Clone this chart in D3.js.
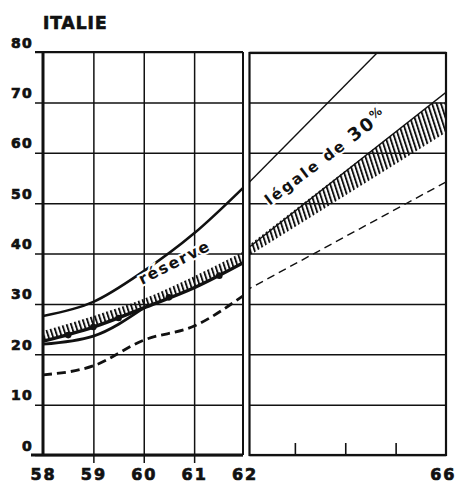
<!DOCTYPE html>
<html>
<head>
<meta charset="utf-8">
<script src="https://cdn.jsdelivr.net/npm/d3@7"></script>
<style>
  body { margin: 0; background: #fff; }
  text { font-family: "DejaVu Sans", sans-serif; font-weight: bold; fill: #111; }
</style>
</head>
<body>
<div class="graph"></div>
<script>
// tick values
const yTicks = [0, 10, 20, 30, 40, 50, 60, 70, 80];
const xLabels = [58, 59, 60, 61, 62, 66];
const leftGrid = [59, 60, 61];
const rightTicks = [63, 64, 65];

// left panel, 1958 - 1962
const years = [58, 59, 60, 61, 62];
const upperLeft = [27.6, 30.4, 36.5, 44, 53.3];
const actualLeft = [22.0, 23.6, 29.2];          // 58..60, then runs on the band edge
const bandTopLeft = [24.6, 27.6, 31.0, 35.5, 40.5];
const bandLowLeft = [22.6, 25.4, 29.2, 33.2, 38.3];
const dashedLeft = [15.9, 17.7, 22.8, 25.6, 31.8];
const dotYears = [58.5, 59, 59.5, 60.5, 61.5];
const dotValues = [23.8, 25.4, 27.2, 31.3, 35.6];

// right panel, 1962 - 1966
const upperRight = [[62, 53.2], [64.65, 80]];
const legalRight = [[62, 40.5], [66, 72]];
const bandTopRight = [[62, 41], [65.75, 70], [66, 70]];
const bandLowRight = [[62, 39], [66, 64]];
const dashedRight = [[62, 32.5], [66, 54.2]];

const W = 458, H = 494;
const x = d3.scaleLinear().domain([58, 66]).range([43, 446]);
const y = d3.scaleLinear().domain([0, 80]).range([455, 52]);
const leftEnd = x(62) - 1.5, rightStart = x(62) + 5;

const svg = d3.select(".graph").append("svg")
  .attr("width", W).attr("height", H);

const defs = svg.append("defs");
defs.append("pattern")
  .attr("id", "hatch")
  .attr("patternUnits", "userSpaceOnUse")
  .attr("width", 4.2).attr("height", 8)
  .attr("patternTransform", "rotate(-18)")
  .append("rect")
  .attr("width", 1.9).attr("height", 8).attr("fill", "#111");
defs.append("clipPath").attr("id", "clipL").append("rect")
  .attr("x", x(58)).attr("y", y(80)).attr("width", leftEnd - x(58)).attr("height", y(0) - y(80));
defs.append("clipPath").attr("id", "clipR").append("rect")
  .attr("x", rightStart).attr("y", y(80)).attr("width", x(66) - rightStart).attr("height", y(0) - y(80));

// heavy lettering like the original print
function heavy(sel, size) {
  sel.attr("font-size", size)
    .style("font-family", "'DejaVu Sans', sans-serif").style("font-weight", "bold")
    .attr("fill", "#111").attr("stroke", "#111").attr("stroke-width", 0.7);
}

// horizontal grid, left panel (ticks stick out to the left)
const gl = svg.append("g")
  .attr("transform", "translate(35,0)")
  .call(d3.axisLeft(y).tickValues(yTicks).tickSize(-(leftEnd - 35)).tickPadding(2));
gl.select(".domain").remove();
gl.selectAll(".tick line").attr("stroke", "#111").attr("stroke-width", 1.5);
gl.selectAll(".tick text").attr("dy", -5).attr("letter-spacing", 1.2).call(heavy, 14);

// horizontal grid, right panel
const gr = svg.append("g")
  .attr("transform", "translate(" + rightStart + ",0)")
  .call(d3.axisLeft(y).tickValues(yTicks).tickSize(-(x(66) - rightStart)).tickFormat(""));
gr.select(".domain").remove();
gr.selectAll(".tick line").attr("stroke", "#111").attr("stroke-width", 1.5);

// vertical grid, left panel
const gv = svg.append("g")
  .attr("transform", "translate(0,463)")
  .call(d3.axisBottom(x).tickValues(leftGrid).tickSize(-(463 - y(80))).tickFormat(""));
gv.select(".domain").remove();
gv.selectAll(".tick line").attr("stroke", "#111").attr("stroke-width", 1.5);

// small ticks inside the right panel
const gt = svg.append("g")
  .attr("transform", "translate(0," + y(0) + ")")
  .call(d3.axisBottom(x).tickValues(rightTicks).tickSize(-12).tickFormat(""));
gt.select(".domain").remove();
gt.selectAll(".tick line").attr("stroke", "#111").attr("stroke-width", 1.6);

// x labels
const gx = svg.append("g")
  .attr("transform", "translate(0,466)")
  .call(d3.axisBottom(x).tickValues(xLabels).tickSize(0).tickPadding(0));
gx.select(".domain").remove();
gx.selectAll(".tick text").attr("dy", "0.9em").attr("letter-spacing", 2).call(heavy, 16);
gx.selectAll(".tick text").filter(d => d === 66).attr("text-anchor", "end").attr("x", 10);

// panel frames
const frame = svg.append("g").attr("fill", "none").attr("stroke", "#111");
frame.append("line").attr("x1", x(58)).attr("x2", x(58)).attr("y1", y(80)).attr("y2", y(0)).attr("stroke-width", 3);
frame.append("line").attr("x1", 31).attr("x2", leftEnd).attr("y1", y(0)).attr("y2", y(0)).attr("stroke-width", 3);
frame.append("line").attr("x1", 35).attr("x2", leftEnd).attr("y1", y(80)).attr("y2", y(80)).attr("stroke-width", 2.2);
frame.append("line").attr("x1", leftEnd).attr("x2", leftEnd).attr("y1", y(80)).attr("y2", y(0)).attr("stroke-width", 2);
frame.append("rect").attr("x", rightStart).attr("y", y(80) + 1)
  .attr("width", x(66) - rightStart).attr("height", y(0) - y(80) - 1).attr("stroke-width", 2.2);

// left panel marks
const L = svg.append("g").attr("clip-path", "url(#clipL)");
const curve = d3.curveMonotoneX;
const lineL = d3.line().curve(curve).x((d, i) => x(years[i])).y(d => y(d));

L.append("path")
  .attr("d", d3.area().curve(curve)
    .x((d, i) => x(years[i])).y0((d, i) => y(bandLowLeft[i])).y1(d => y(d))(bandTopLeft))
  .attr("fill", "url(#hatch)");
L.append("path").attr("d", lineL(bandLowLeft))
  .attr("fill", "none").attr("stroke", "#111").attr("stroke-width", 3.4);
L.selectAll("circle").data(dotValues).join("circle")
  .attr("cx", (d, i) => x(dotYears[i])).attr("cy", d => y(d)).attr("r", 3.3).attr("fill", "#111");
L.append("path").attr("d", lineL(actualLeft))
  .attr("fill", "none").attr("stroke", "#111").attr("stroke-width", 2.8);
L.append("path").attr("d", lineL(upperLeft))
  .attr("fill", "none").attr("stroke", "#111").attr("stroke-width", 2.6);
L.append("path").attr("d", lineL(dashedLeft))
  .attr("fill", "none").attr("stroke", "#111").attr("stroke-width", 2.8)
  .attr("stroke-dasharray", "9,5");

// right panel marks
const R = svg.append("g").attr("clip-path", "url(#clipR)");
const lineR = d3.line().x(d => x(d[0])).y(d => y(d[1]));
R.append("path")
  .attr("d", lineR(bandTopRight.concat(bandLowRight.slice().reverse())) + "Z")
  .attr("fill", "url(#hatch)");
R.append("path").attr("d", lineR(legalRight))
  .attr("fill", "none").attr("stroke", "#111").attr("stroke-width", 1.4);
R.append("path").attr("d", lineR(upperRight))
  .attr("fill", "none").attr("stroke", "#111").attr("stroke-width", 1.4);
R.append("path").attr("d", lineR(dashedRight))
  .attr("fill", "none").attr("stroke", "#111").attr("stroke-width", 1.4)
  .attr("stroke-dasharray", "8,5");

// labels
svg.append("text").attr("x", 43).attr("y", 29)
  .attr("letter-spacing", 1).call(heavy, 17).text("ITALIE");

svg.append("text")
  .attr("transform", "translate(177,267) rotate(-27)")
  .attr("text-anchor", "middle").attr("font-size", 15.5).attr("letter-spacing", 1.8)
  .attr("stroke", "#fff").attr("stroke-width", 4).attr("paint-order", "stroke")
  .style("font-weight", "600")
  .text("réserve");

const lg = svg.append("text")
  .attr("transform", "translate(329,161) rotate(-37)")
  .attr("text-anchor", "middle").attr("font-size", 15).attr("letter-spacing", 2.2)
  .attr("stroke", "#fff").attr("stroke-width", 4).attr("paint-order", "stroke")
  .style("font-weight", "600");
lg.append("tspan").text("légale de ");
lg.append("tspan").attr("font-size", 18).text("30");
lg.append("tspan").attr("font-size", 12).attr("dy", -6).text("%");
</script>
</body>
</html>
